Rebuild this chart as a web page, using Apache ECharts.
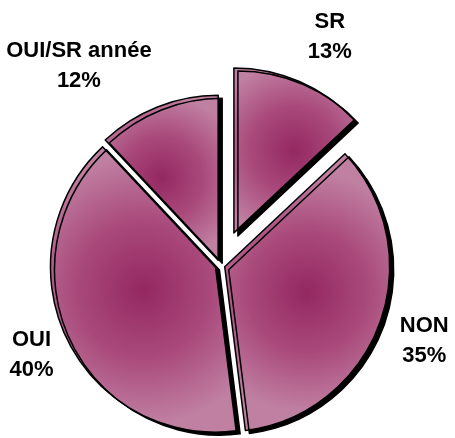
<!DOCTYPE html>
<html>
<head>
<meta charset="utf-8">
<script src="https://cdn.jsdelivr.net/npm/echarts@6/dist/echarts.min.js"></script>
<style>
  html, body { margin: 0; padding: 0; background: #fff; }
  #chart { width: 455px; height: 438px; }
</style>
</head>
<body>
<div id="chart"></div>
<script>
// data
const categories = ["SR", "NON", "OUI", "OUI/SR année"];
const values = [13, 35, 40, 12];
const pulledOut = "SR"; // the slice pulled far out of the pie

const chart = echarts.init(document.getElementById("chart"));

const sliceStyle = {
  color: {
    type: "radial",
    x: 0.5,
    y: 0.5,
    r: 0.72,
    colorStops: [
      { offset: 0, color: "#942861" },
      { offset: 0.5, color: "#a9497b" },
      { offset: 1, color: "#c080a2" },
    ],
  },
  borderColor: "#000",
  borderWidth: 1.5,
  shadowColor: "#000",
  shadowBlur: 0,
  shadowOffsetX: 4,
  shadowOffsetY: 3,
};
const hiddenStyle = {
  color: "rgba(0,0,0,0)",
  borderWidth: 0,
  shadowColor: "rgba(0,0,0,0)",
};

// where each label sits: length of the (hidden) leader line and gap to the chart edge
const labelPlace = {
  SR: { len: 49, edge: 117 },
  NON: { len: 54, edge: 11 },
  OUI: { len: 42, edge: 14 },
  "OUI/SR année": { len: 44, edge: 8 },
};

function buildData(visible) {
  return categories.map((name, i) => {
    const on = visible(name);
    return {
      name: name,
      value: values[i],
      selected: on,
      itemStyle: on ? sliceStyle : hiddenStyle,
      label: { show: on, edgeDistance: labelPlace[name].edge },
      labelLine: { show: false, length: labelPlace[name].len, length2: 0 },
    };
  });
}

const textStyle = {
  align: "center",
  color: "#000",
  fontFamily: "'Liberation Sans', Arial, sans-serif",
  fontWeight: "bold",
  fontSize: 22,
  lineHeight: 30,
};

function pieSeries(offset, visible) {
  return {
    type: "pie",
    silent: true,
    center: [220, 265],
    radius: 165,
    startAngle: 90,
    clockwise: true,
    selectedMode: "multiple",
    selectedOffset: offset,
    percentPrecision: 0,
    avoidLabelOverlap: false,
    emphasis: { disabled: true },
    label: {
      position: "outside",
      alignTo: "edge",
      formatter: "{c|{b}}\n{c|{d}%}",
      color: "#000",
      fontFamily: "'Liberation Sans', Arial, sans-serif",
      fontWeight: "bold",
      fontSize: 22,
      lineHeight: 30,
      rich: { c: textStyle },
    },
    data: buildData(visible),
  };
}

const option = {
  animation: false,
  backgroundColor: "#fff",
  series: [
    pieSeries(5, (n) => n !== pulledOut),
    pieSeries(35, (n) => n === pulledOut),
  ],
};

chart.setOption(option);
</script>
</body>
</html>
